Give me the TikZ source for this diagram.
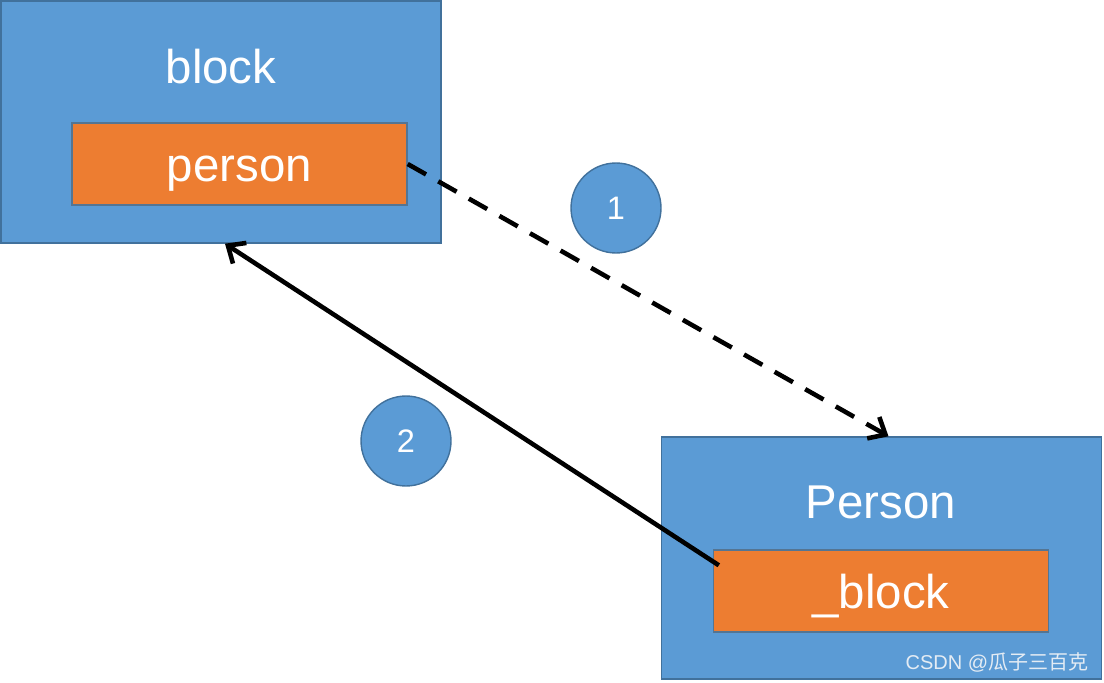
\documentclass[tikz,border=0pt]{standalone}
\usepackage{fontspec}
\setmainfont{Liberation Sans}
\newfontfamily\cjkfont{Noto Sans CJK SC}
\usetikzlibrary{arrows.meta, positioning}
\definecolor{boxblue}{HTML}{5B9BD5}
\definecolor{edgeblue}{HTML}{41719C}
\definecolor{varorange}{HTML}{ED7D31}
\definecolor{markgray}{HTML}{E4ECF4}

\tikzset{
  outerbox/.style={draw=edgeblue, line width=0.8pt, fill=boxblue, minimum width=8.8cm, minimum height=4.84cm, inner sep=0pt},
  innerbox/.style={draw=edgeblue!70!gray, line width=0.8pt, fill=varorange, minimum width=6.7cm, minimum height=1.64cm, inner sep=0pt, text=white, text height=20pt, text depth=0pt, font=\fontsize{27}{30}\selectfont},
  boxtitle/.style={text=white, font=\fontsize{27}{30}\selectfont},
  stepcircle/.style={circle, draw=edgeblue, line width=0.8pt, fill=boxblue, minimum size=1.8cm, inner sep=0pt, text=white, font=\fontsize{18.5}{21}\selectfont},
  link/.style={line width=2.6pt, black, -{Straight Barb[length=8pt, width=14pt, line width=2.6pt]}}
}

\begin{document}
\begin{tikzpicture}[x=0.02cm, y=-0.02cm]
  \useasboundingbox (0,0) rectangle (1104,682);

  % Block
  \node[outerbox] (blockbox) at (221,122) {};
  \node[boxtitle] (blocktitle) at (221,67) {block};
  \node[innerbox] (personvar) at (239.5,164) {person};

  % Person
  \node[outerbox] (personbox) at (881.5,558) {};
  \node[boxtitle] (persontitle) at (881,502) {Person};
  \node[innerbox] (blockvar) at (881,591) {\_block};

  % Schritte
  \node[stepcircle] (stepone) at (616,208) {1};
  \node[stepcircle] (steptwo) at (406,441) {2};

  % Verweise
  \draw[link, dash pattern=on 12pt off 8pt] (personvar.east) -- ([xshift=0.14cm]personbox.north);
  \draw[link] ([xshift=0.12cm, yshift=-0.32cm]blockvar.north west) -- ([xshift=0.08cm]blockbox.south);

  % Wasserzeichen
  \node[text=markgray, font=\fontsize{11.4}{13}\selectfont] (watermark) at (997,662) {CSDN @{\cjkfont 瓜子三百克}};
\end{tikzpicture}
\end{document}
